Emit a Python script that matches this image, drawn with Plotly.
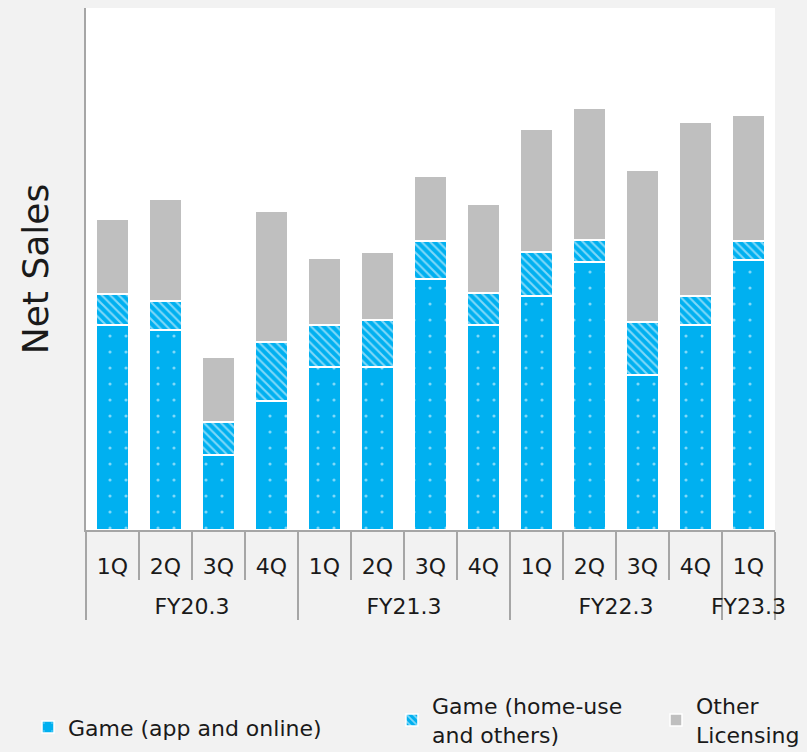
import plotly.graph_objects as go

fiscal_years = ["FY20.3"] * 4 + ["FY21.3"] * 4 + ["FY22.3"] * 4 + ["FY23.3"]
quarters = ["1Q", "2Q", "3Q", "4Q"] * 3 + ["1Q"]

game_app_online = [205, 200, 75, 129, 163, 163, 251, 205, 234, 268, 155, 205, 270]
game_home_use = [31, 29, 33, 59, 42, 47, 38, 32, 44, 22, 53, 29, 19]
other_licensing = [75, 102, 65, 131, 67, 68, 65, 89, 123, 132, 152, 174, 126]

BLUE = "#00b0f0"
GRAY = "#bfbfbf"
AXIS = "#a6a6a6"
FONT = "DejaVu Sans"
TXT = "#1a1a1a"

fy_labels = ["<br>" + f for f in fiscal_years]
x = [fy_labels, quarters]

fig = go.Figure()
fig.add_trace(go.Bar(
    x=x, y=game_app_online, name="Game (app and online)", legend="legend",
    marker=dict(color=BLUE, line=dict(color="white", width=1.5),
                pattern=dict(shape=".", fgcolor="white", bgcolor=BLUE, size=16, solidity=0.03)),
))
fig.add_trace(go.Bar(
    x=x, y=game_home_use, name="Game (home-use<br>and others)", legend="legend2",
    marker=dict(color=BLUE, line=dict(color="white", width=1.5),
                pattern=dict(shape="\\", fgcolor="white", bgcolor=BLUE, size=6, solidity=0.35)),
))
fig.add_trace(go.Bar(
    x=x, y=other_licensing, name="Other<br>Licensing", legend="legend3",
    marker=dict(color=GRAY, line=dict(color="white", width=1.5)),
))

legend_common = dict(orientation="h", xanchor="left", yanchor="middle",
                     xref="container", yref="container",
                     font=dict(family=FONT, size=22, color=TXT),
                     bgcolor="rgba(0,0,0,0)", itemwidth=30)

fig.update_layout(
    barmode="stack",
    bargap=0.4,
    width=807, height=752,
    margin=dict(l=86, r=32, t=8, b=222, autoexpand=False),
    paper_bgcolor="#f2f2f2",
    plot_bgcolor="white",
    font=dict(family=FONT, size=22, color=TXT),
    showlegend=True,
    legend=dict(x=0.0347, y=0.033, **legend_common),
    legend2=dict(x=0.4857, y=0.042, **legend_common),
    legend3=dict(x=0.8129, y=0.042, **legend_common),
)
fig.update_yaxes(range=[0, 522], showticklabels=False, showgrid=False, zeroline=False,
                 showline=True, linecolor=AXIS, linewidth=2,
                 title=dict(text="Net Sales", font=dict(family=FONT, size=36, color=TXT), standoff=24))
fig.update_xaxes(showline=True, linecolor=AXIS, linewidth=2,
                 ticks="outside", ticklen=48, tickcolor=AXIS, tickwidth=2,
                 dividercolor=AXIS, dividerwidth=2, ticklabelstandoff=16,
                 tickfont=dict(family=FONT, size=22, color=TXT))

fig.write_html("out.html", config={"displayModeBar": False},
               post_script="document.body.style.margin='0';document.body.style.background='#f2f2f2';")
